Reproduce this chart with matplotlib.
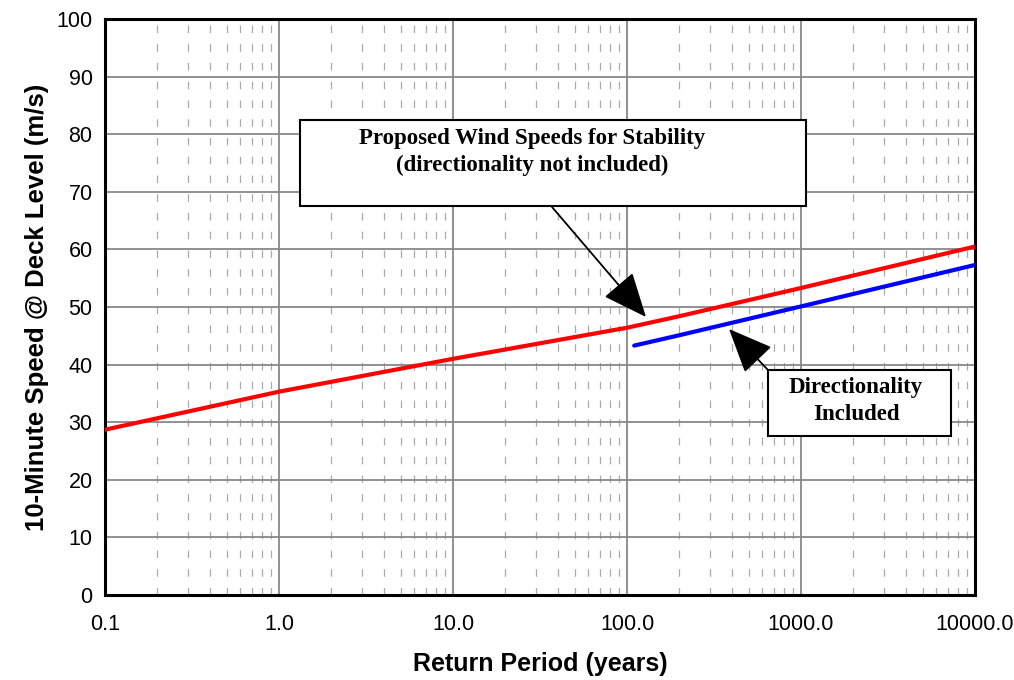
import matplotlib
matplotlib.use("Agg")
import matplotlib.pyplot as plt
from matplotlib.ticker import FixedLocator, LogLocator, FuncFormatter, NullFormatter
from matplotlib.patches import Rectangle

# Data
red_period = [0.1, 1.0, 10.0, 100.0, 200.0, 1000.0, 10000.0]
red_speed = [28.7, 35.3, 41.0, 46.4, 48.4, 53.3, 60.5]

blue_period = [110.0, 200.0, 1000.0, 10000.0]
blue_speed = [43.3, 45.1, 50.1, 57.3]

x_ticks = [0.1, 1.0, 10.0, 100.0, 1000.0, 10000.0]
y_ticks = list(range(0, 101, 10))

W, H = 1014, 680
fig = plt.figure(figsize=(W / 100, H / 100), dpi=100)
ax = fig.add_axes([105 / W, (H - 595) / H, 870 / W, 576 / H])

ax.plot(red_period, red_speed, color='#ff0000', lw=3, solid_capstyle='round', zorder=3)
ax.plot(blue_period, blue_speed, color='#0000ff', lw=3, solid_capstyle='round', zorder=3)

ax.set_xscale('log')
ax.set_xlim(0.1, 10000)
ax.set_ylim(0, 100)
ax.xaxis.set_major_locator(FixedLocator(x_ticks))
ax.xaxis.set_major_formatter(FuncFormatter(lambda v, p: f'{v:.1f}'))
ax.xaxis.set_minor_locator(LogLocator(base=10, subs=range(2, 10)))
ax.xaxis.set_minor_formatter(NullFormatter())
ax.set_yticks(y_ticks)

ax.grid(True, which='major', color='#888888', lw=1.3, ls='-', zorder=1)
ax.grid(True, which='minor', axis='x', color='#aaaaaa', lw=0.9, dashes=(6, 9), zorder=1)
ax.tick_params(which='both', length=0, labelsize=15.5, pad=9)
ax.tick_params(axis='x', pad=14)
for lbl in ax.get_xticklabels() + ax.get_yticklabels():
    lbl.set_family('Liberation Sans')

for s in ax.spines.values():
    s.set_linewidth(2.2)
    s.set_color('black')

ax.set_xlabel('Return Period (years)', fontsize=18, fontweight='bold',
              family='Liberation Sans', labelpad=12)
ax.set_ylabel('10-Minute Speed @ Deck Level (m/s)', fontsize=18.5, fontweight='bold',
              family='Liberation Sans', labelpad=5)


def fx(px):
    return px / W


def fy(py):
    return 1 - py / H


# Callout boxes
box1 = Rectangle((fx(300), fy(206)), fx(806) - fx(300), fy(120) - fy(206),
                 transform=fig.transFigure, facecolor='white', edgecolor='black',
                 lw=1.5, zorder=5)
fig.patches.append(box1)
fig.text(fx(532), fy(152), 'Proposed Wind Speeds for Stability\n(directionality not included)',
         ha='center', va='center', fontsize=16.5, fontweight='bold',
         family='Liberation Serif', linespacing=1.4, zorder=6)

box2 = Rectangle((fx(768), fy(436)), fx(951) - fx(768), fy(370) - fy(436),
                 transform=fig.transFigure, facecolor='white', edgecolor='black',
                 lw=1.5, zorder=5)
fig.patches.append(box2)
fig.text(fx(856), fy(401), 'Directionality\nIncluded',
         ha='center', va='center', fontsize=16.5, fontweight='bold',
         family='Liberation Serif', linespacing=1.4, zorder=6)

arrow_style = dict(arrowstyle='-|>,head_length=1.4,head_width=0.6', mutation_scale=20,
                   color='black', lw=1.3, shrinkA=0, shrinkB=0)
ax.annotate('', xy=(fx(646), fy(317)), xycoords='figure fraction',
            xytext=(fx(552), fy(207)), textcoords='figure fraction',
            arrowprops=arrow_style, zorder=6)
ax.annotate('', xy=(fx(729), fy(329)), xycoords='figure fraction',
            xytext=(fx(768), fy(370)), textcoords='figure fraction',
            arrowprops=arrow_style, zorder=6)

fig.savefig('out.png', dpi=100)
